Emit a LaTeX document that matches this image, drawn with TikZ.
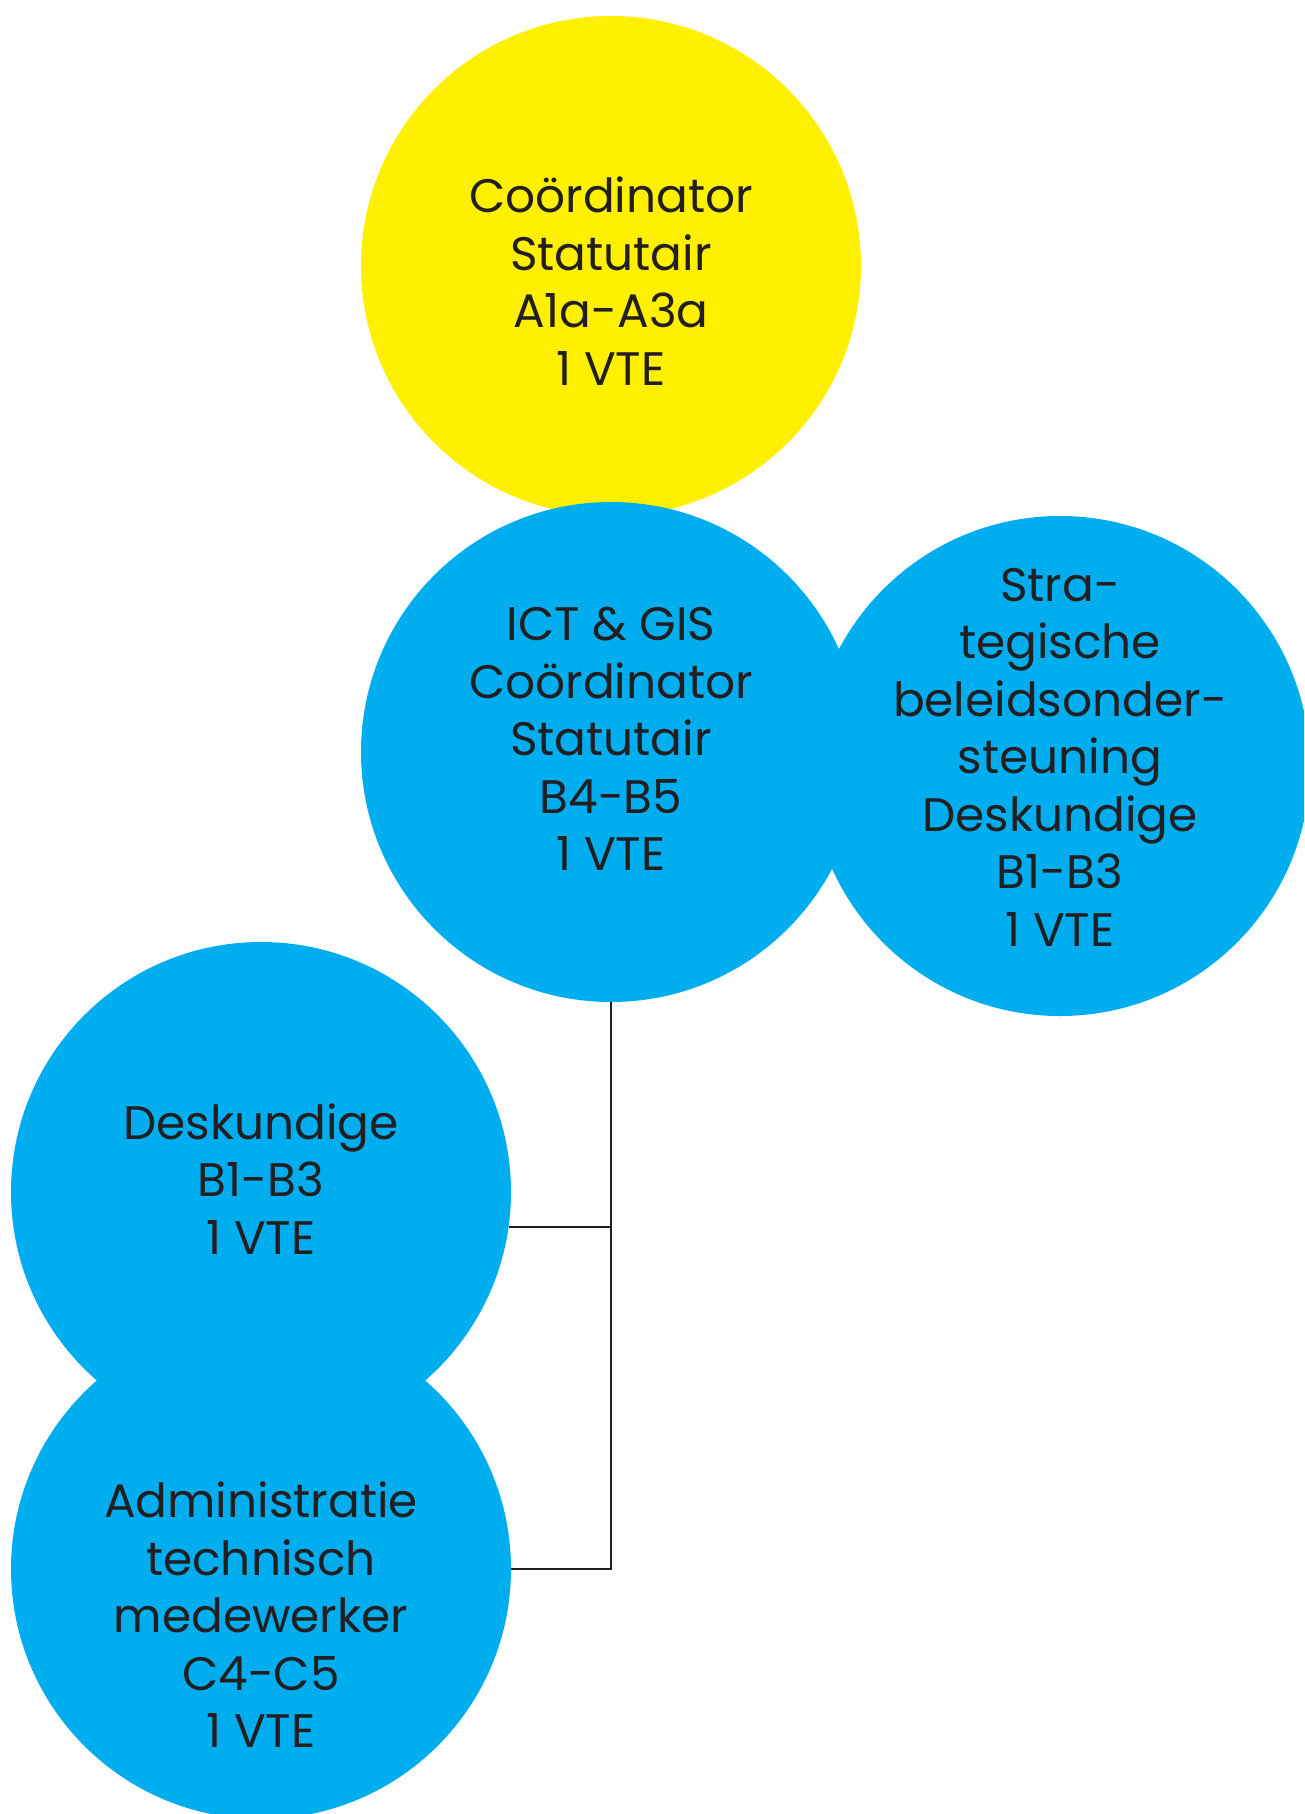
\documentclass[tikz,border=0pt]{standalone}
\usepackage{fontspec}
\setmainfont{Poppins}
\definecolor{ylw}{HTML}{FFF000}
\definecolor{blu}{HTML}{00AEEF}
\definecolor{ink}{HTML}{231F20}
\begin{document}
\begin{tikzpicture}[x=1pt,y=1pt,
  bubble/.style={circle, minimum size=500pt, inner sep=0pt, draw=none},
  txt/.style={align=center, text=ink, font=\fontsize{47}{57.5}\selectfont, inner sep=0pt},
  link/.style={draw=ink, line width=2.2pt}]
\useasboundingbox (0,0) rectangle (1304,-1814);
\begin{scope}
\clip (0,0) rectangle (1304,-1814);
\node[bubble, fill=ylw] (coord) at (611,-266) {};
\node[bubble, fill=blu] (ict) at (611,-752) {};
\node[bubble, fill=blu] (strat) at (1060,-766) {};
\node[bubble, fill=blu] (desk) at (261,-1192) {};
\node[bubble, fill=blu] (admin) at (261,-1569) {};
\end{scope}
\node[txt] (tcoord) at (611,-281) {Coördinator\\Statutair\\A1a-A3a\\1 VTE};
\node[txt] (tict) at (611,-739) {ICT \& GIS\\Coördinator\\Statutair\\B4-B5\\1 VTE};
\node[txt] (tstrat) at (1060,-757) {Stra-\\tegische\\beleidsonder-\\steuning\\Deskundige\\B1-B3\\1 VTE};
\node[txt] (tdesk) at (261,-1179) {Deskundige\\B1-B3\\1 VTE};
\node[txt] (tadmin) at (261,-1615) {Administratie\\technisch\\medewerker\\C4-C5\\1 VTE};
\draw[link] (ict.south) -- (ict.south |- admin.east) -- (admin.east);
\draw[link] (desk.-8.2) -- (desk.-8.2 -| ict.south);
\end{tikzpicture}
\end{document}
